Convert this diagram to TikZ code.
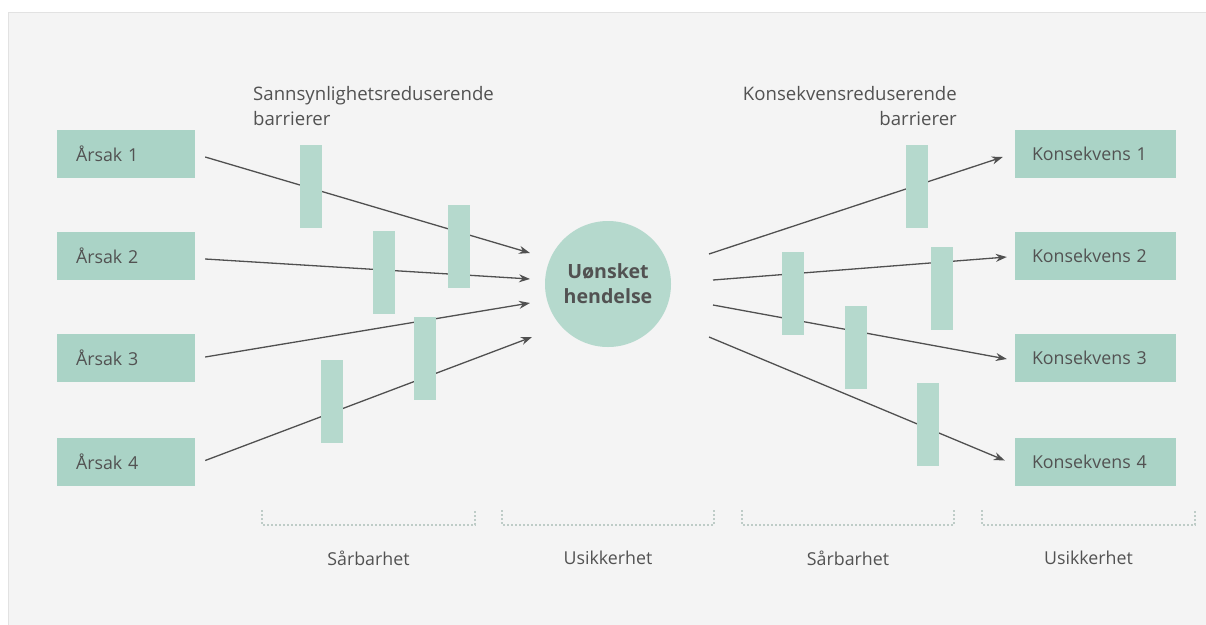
\documentclass[tikz,border=0pt]{standalone}
\usepackage{fontspec}
\setmainfont{Open Sans}
\usetikzlibrary{arrows.meta}
\definecolor{mint}{RGB}{170,211,198}
\definecolor{barmint}{RGB}{181,217,205}
\definecolor{bgray}{RGB}{244,244,244}
\definecolor{edgegray}{RGB}{226,226,226}
\definecolor{txt}{RGB}{82,82,82}
\definecolor{linec}{RGB}{80,80,80}
\definecolor{dotc}{RGB}{190,204,199}
\tikzset{
  cause/.style={fill=mint, text=txt, minimum height=48pt, text width=100pt,
    inner xsep=19pt, align=left, font=\fontsize{17.8}{21}\selectfont},
  conseq/.style={fill=mint, text=txt, minimum height=48pt, text width=127pt,
    inner xsep=17pt, align=left, font=\fontsize{17.8}{21}\selectfont},
  barrier/.style={fill=barmint, minimum width=22pt, minimum height=83pt, inner sep=0pt},
  event/.style={circle, fill=barmint, minimum size=126pt, inner sep=0pt, text=txt,
    align=center, font=\bfseries\fontsize{19.6}{25}\selectfont},
  arr/.style={draw=linec, line width=1.3pt, -{Stealth[length=11pt,width=8pt]}},
  label/.style={text=txt, font=\fontsize{17.8}{22}\selectfont, inner sep=0pt},
  toplabel/.style={text=txt, font=\fontsize{18.6}{25}\selectfont, inner sep=0pt},
  bracket/.style={draw=dotc, line width=1.4pt, dash pattern=on 2pt off 2pt}
}
\begin{document}
\begin{tikzpicture}[x=1pt,y=-1pt]
\useasboundingbox (0,0) rectangle (1206,624);
\fill[white] (0,0) rectangle (1206,624);
\filldraw[fill=bgray, draw=edgegray, line width=1pt] (8.5,12.5) rectangle (1207,625);

% causes and consequences
\node[cause] (a1) at (126,154) {Årsak 1};
\node[cause] (a2) at (126,256) {Årsak 2};
\node[cause] (a3) at (126,358) {Årsak 3};
\node[cause] (a4) at (126,461.5) {Årsak 4};
\node[conseq] (k1) at (1095.5,154) {Konsekvens 1};
\node[conseq] (k2) at (1095.5,256) {Konsekvens 2};
\node[conseq] (k3) at (1095.5,358) {Konsekvens 3};
\node[conseq] (k4) at (1095.5,461.5) {Konsekvens 4};

% top event
\node[event] (ev) at (608,284) {Uønsket\\hendelse};

% arrow ends around the top event
\coordinate (in1) at (530,253);
\coordinate (in2) at (530,279);
\coordinate (in3) at (530,303);
\coordinate (in4) at (532,337);
\coordinate (out1) at (709,254);
\coordinate (out2) at (713,280);
\coordinate (out3) at (713,305);
\coordinate (out4) at (709,337);

\draw[arr] ([xshift=10pt,yshift=-3pt]a1.east) -- (in1);
\draw[arr] ([xshift=10pt,yshift=-3pt]a2.east) -- (in2);
\draw[arr] ([xshift=10pt,yshift=1pt]a3.east) -- (in3);
\draw[arr] ([xshift=10pt,yshift=1pt]a4.east) -- (in4);
\draw[arr] (out1) -- ([xshift=-12pt,yshift=-3pt]k1.west);
\draw[arr] (out2) -- ([xshift=-8pt,yshift=-1pt]k2.west);
\draw[arr] (out3) -- ([xshift=-8pt,yshift=-1pt]k3.west);
\draw[arr] (out4) -- ([xshift=-10pt,yshift=1pt]k4.west);

% barriers, on top of the arrows
\node[barrier] (b1) at (311,186.5) {};
\node[barrier] (b2) at (384,272.5) {};
\node[barrier] (b3) at (459,246.5) {};
\node[barrier] (b4) at (425,358.5) {};
\node[barrier] (b5) at (332,401.5) {};
\node[barrier] (c1) at (917,186.5) {};
\node[barrier] (c2) at (793,293.5) {};
\node[barrier] (c3) at (942,288.5) {};
\node[barrier] (c4) at (856,347.5) {};
\node[barrier] (c5) at (928,424.5) {};

% barrier group labels
\node[toplabel, anchor=north west, align=left] (lp) at (253,86) {Sannsynlighetsreduserende\\barrierer};
\node[toplabel, anchor=north east, align=right] (lk) at (957,86) {Konsekvensreduserende\\barrierer};

% brackets and their labels
\foreach \xa/\xb/\nm/\tx in {262/475/s1/Sårbarhet, 502/714/u1/Usikkerhet, 742/954/s2/Sårbarhet, 982/1195/u2/Usikkerhet}{
  \draw[bracket] (\xa,510) -- (\xa,525) -- (\xb,525) -- (\xb,510);
  \node[label] (\nm) at ({(\xa+\xb)/2},558) {\tx};
}
\end{tikzpicture}
\end{document}
